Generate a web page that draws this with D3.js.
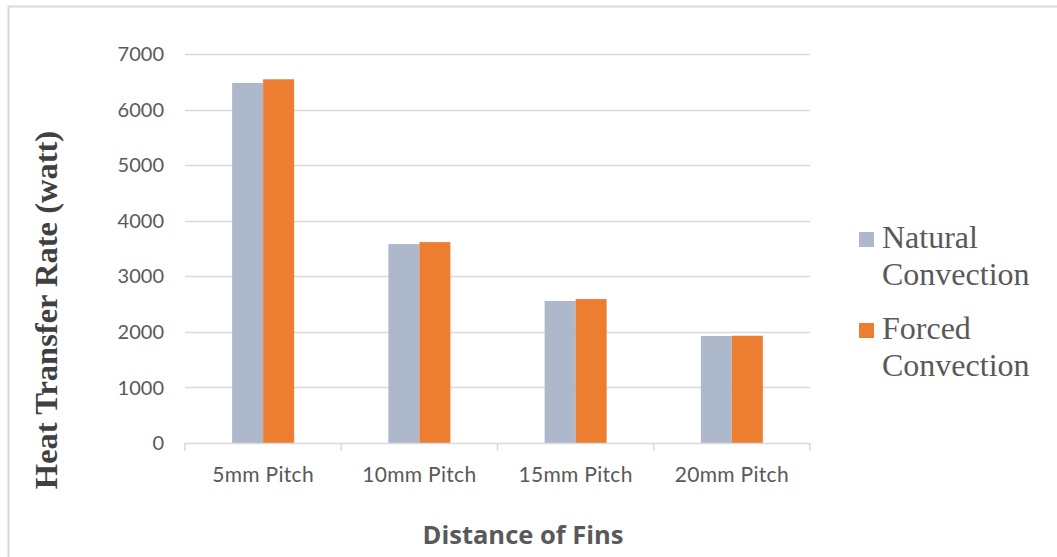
<!DOCTYPE html>
<html>
<head>
<meta charset="utf-8">
<script src="https://cdn.jsdelivr.net/npm/d3@7"></script>
<style>
  html, body { margin: 0; padding: 0; background: #fff; }
  svg { display: block; }
</style>
</head>
<body>
<svg id="chart" width="1057" height="557"></svg>
<script>
// Heat transfer rate by fin pitch
const categories = ["5mm Pitch", "10mm Pitch", "15mm Pitch", "20mm Pitch"];
const seriesNames = ["Natural Convection", "Forced Convection"];
const naturalValues = [6480, 3580, 2555, 1925];
const forcedValues = [6545, 3615, 2590, 1930];
const yTicks = [0, 1000, 2000, 3000, 4000, 5000, 6000, 7000];
const colors = ["#adb9ca", "#ed7d31"];

const svg = d3.select("#chart");
const plot = { left: 185, right: 810, top: 54, bottom: 443 };

// outer frame
svg.append("rect")
  .attr("x", 8.5).attr("y", 6.5)
  .attr("width", 1100).attr("height", 600)
  .attr("fill", "none").attr("stroke", "#d9d9d9").attr("stroke-width", 2);

const x = d3.scaleBand().domain(categories).range([plot.left, plot.right]).paddingInner(0).paddingOuter(0);
const xInner = d3.scaleBand().domain(seriesNames).range([0, 62]);
const y = d3.scaleLinear().domain([0, 7000]).range([plot.bottom, plot.top]);

// gridlines
svg.append("g").selectAll("line").data(yTicks.filter(d => d > 0)).join("line")
  .attr("x1", plot.left).attr("x2", plot.right)
  .attr("y1", d => Math.round(y(d)) + 0.5).attr("y2", d => Math.round(y(d)) + 0.5)
  .attr("stroke", "#d9d9d9").attr("stroke-width", 1.3);

// y tick labels
svg.append("g").selectAll("text").data(yTicks).join("text")
  .attr("x", 164).attr("y", d => y(d))
  .attr("dy", "0.36em")
  .attr("text-anchor", "end")
  .attr("font-family", "Lato, 'Open Sans', sans-serif")
  .attr("font-size", 20)
  .attr("fill", "#595959")
  .text(d => d);

// bars
const rows = categories.map((c, i) => ({ c, vals: [naturalValues[i], forcedValues[i]] }));
const groups = svg.append("g").selectAll("g").data(rows).join("g")
  .attr("transform", d => `translate(${x(d.c) + x.bandwidth() / 2 - 31},0)`);
groups.selectAll("rect").data(d => d.vals.map((v, j) => ({ v, s: seriesNames[j], j }))).join("rect")
  .attr("x", d => xInner(d.s))
  .attr("width", xInner.bandwidth())
  .attr("y", d => y(d.v))
  .attr("height", d => y(0) - y(d.v))
  .attr("fill", d => colors[d.j]);

// x axis line with tick marks between categories
const xAxis = svg.append("g").attr("stroke", "#d9d9d9").attr("stroke-width", 1.5);
xAxis.append("line")
  .attr("x1", plot.left).attr("x2", plot.right)
  .attr("y1", plot.bottom + 0.5).attr("y2", plot.bottom + 0.5);
const boundaries = categories.map(c => x(c)).concat([x(categories[categories.length - 1]) + x.bandwidth()]);
xAxis.selectAll("line.tick").data(boundaries).join("line")
  .attr("class", "tick")
  .attr("x1", d => d).attr("x2", d => d)
  .attr("y1", plot.bottom).attr("y2", plot.bottom + 8);

// x tick labels
svg.append("g").selectAll("text").data(categories).join("text")
  .attr("x", d => x(d) + x.bandwidth() / 2)
  .attr("y", 482)
  .attr("text-anchor", "middle")
  .attr("font-family", "Lato, 'Open Sans', sans-serif")
  .attr("font-size", 21)
  .attr("letter-spacing", 0.3)
  .attr("fill", "#595959")
  .text(d => d);

// axis titles
svg.append("text")
  .attr("x", 523).attr("y", 544)
  .attr("text-anchor", "middle")
  .attr("font-family", "'Open Sans', sans-serif")
  .attr("font-weight", "bold")
  .attr("font-size", 25.5)
  .attr("fill", "#595959")
  .text("Distance of Fins");

svg.append("text")
  .attr("transform", "translate(57,310) rotate(-90)")
  .attr("text-anchor", "middle")
  .attr("font-family", "'Liberation Serif', 'Times New Roman', serif")
  .attr("font-weight", "bold")
  .attr("font-size", 32.5)
  .attr("fill", "#404040")
  .text("Heat Transfer Rate (watt)");

// legend
const legendY = [248, 339];
const legend = svg.append("g").selectAll("g").data(seriesNames).join("g")
  .attr("transform", (d, i) => `translate(859,${legendY[i]})`);
legend.append("rect")
  .attr("x", 0).attr("y", -16).attr("width", 15).attr("height", 15)
  .attr("fill", (d, i) => colors[i]);
legend.append("text")
  .attr("font-family", "'Liberation Serif', 'Times New Roman', serif")
  .attr("font-size", 32)
  .attr("fill", "#595959")
  .selectAll("tspan").data(d => d.split(" ")).join("tspan")
  .attr("x", 23).attr("dy", (d, i) => i === 0 ? 0 : 37)
  .text(d => d);
</script>
</body>
</html>
